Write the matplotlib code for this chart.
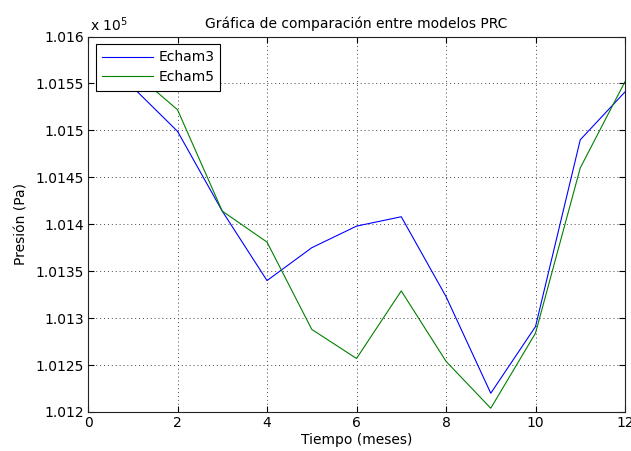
import numpy as np
import matplotlib.pyplot as plt
from matplotlib.ticker import FuncFormatter

plt.rcParams['font.family'] = ['DejaVu Sans']
plt.rcParams['font.size'] = 10

# monthly mean pressure (Pa) from the two models
meses = np.arange(1, 13)
echam3 = np.array([101546, 101499, 101414, 101340, 101375, 101398,
                   101408, 101323, 101220, 101291, 101490, 101541])
echam5 = np.array([101563, 101522, 101414, 101381, 101288, 101257,
                   101329, 101254, 101204, 101284, 101460, 101552])

fig = plt.figure(figsize=(6.31, 4.51), dpi=100)
ax = fig.add_axes([0.1395, 0.0865, 0.851, 0.8325])

ax.plot(meses, echam3, color=(0, 0, 1), lw=0.8, label='Echam3')
ax.plot(meses, echam5, color=(0, 0.5, 0), lw=0.8, label='Echam5')

ax.set_xlim(0, 12)
ax.set_ylim(101200, 101600)
ax.set_xticks(np.arange(0, 13, 2))
ax.set_yticks(np.arange(101200, 101601, 50))
ax.yaxis.set_major_formatter(FuncFormatter(lambda v, p: '%g' % round(v / 1e5, 6)))

ax.tick_params(direction='in', top=True, right=True, length=4, width=0.8,
               colors='black', pad=3)
for s in ax.spines.values():
    s.set_linewidth(0.8)
    s.set_color('#222222')

ax.grid(True, color='#444444', linestyle=(0, (1, 3)), linewidth=0.7)

ax.text(0.003, 1.008, 'x 10$^5$', transform=ax.transAxes, ha='left', va='bottom', fontsize=10)

ax.set_title('Gráfica de comparación entre modelos PRC', fontsize=10, pad=6)
ax.set_xlabel('Tiempo (meses)', labelpad=2)
ax.set_ylabel('Presión (Pa)', labelpad=5)

leg = ax.legend(loc='upper left', handlelength=3.7, fancybox=False, framealpha=1,
                edgecolor='black', borderaxespad=0.55, borderpad=0.45,
                labelspacing=0.42, handletextpad=0.35, fontsize=10)
leg.get_frame().set_linewidth(0.8)

fig.savefig('out.png', dpi=100)
